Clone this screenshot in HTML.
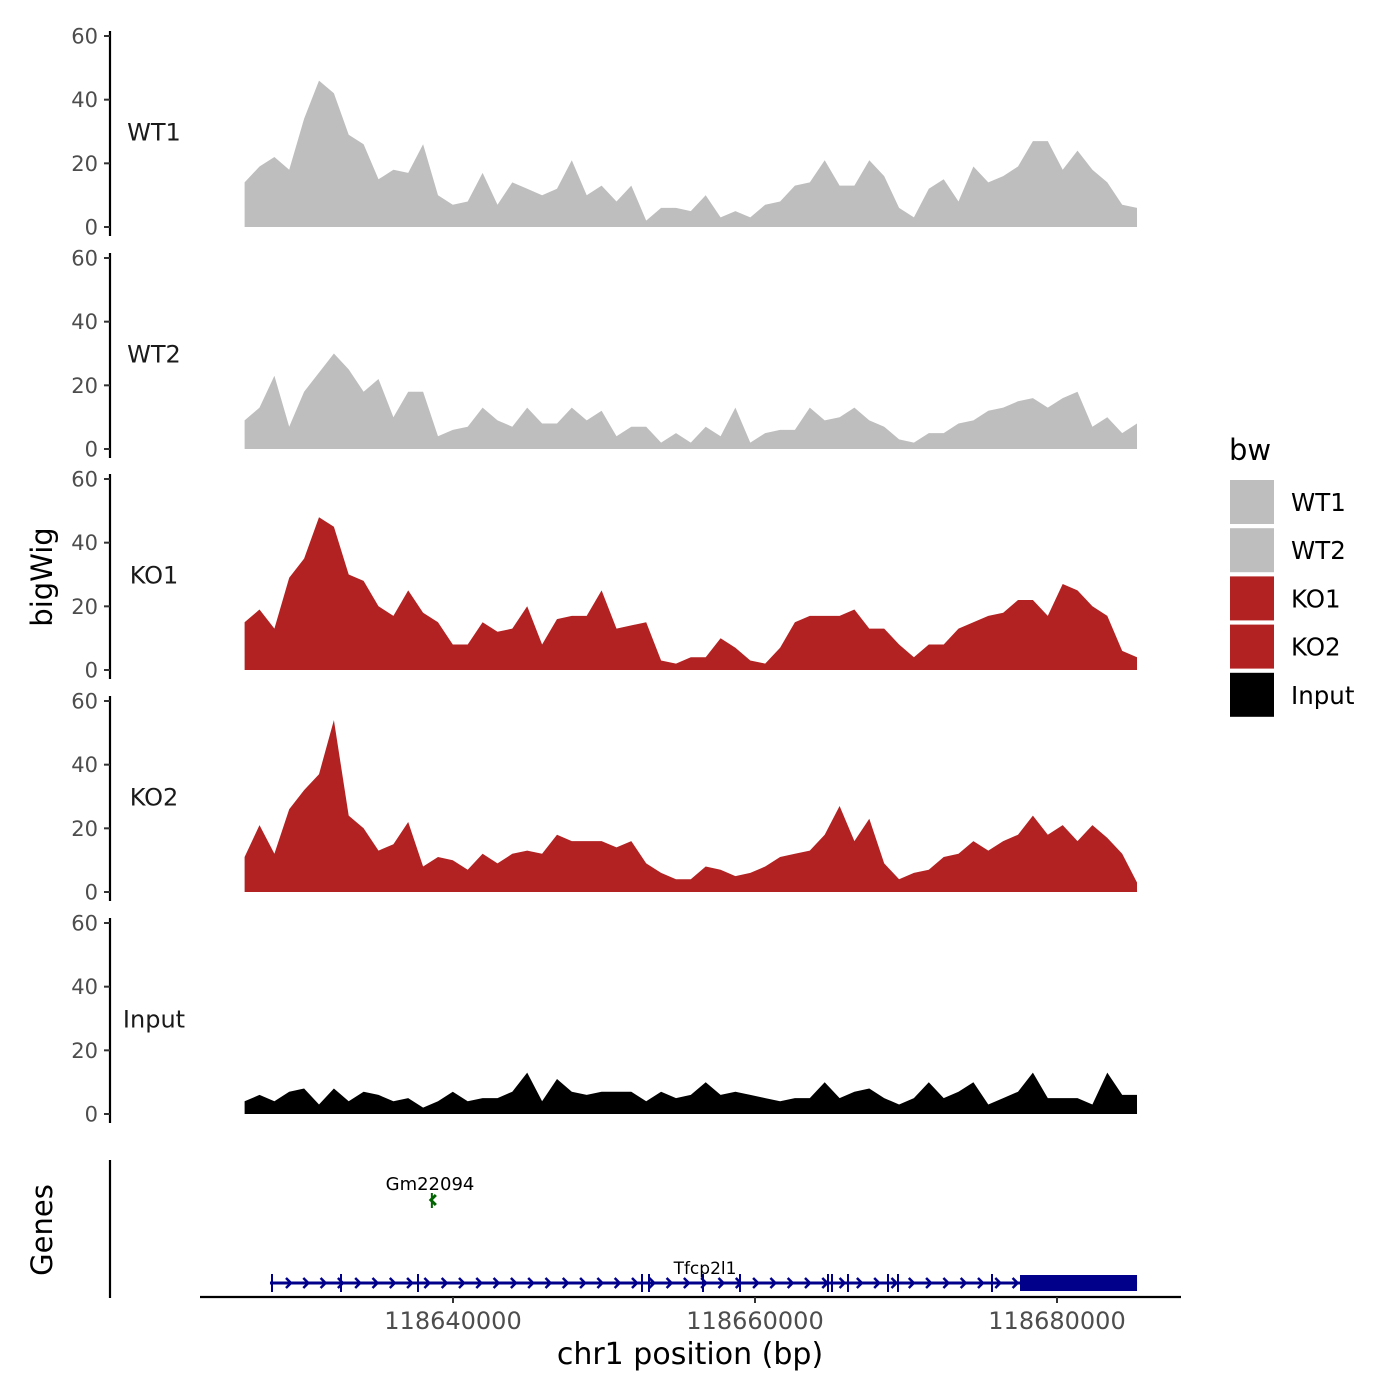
<!DOCTYPE html>
<html><head><meta charset="utf-8"><style>
body{margin:0;background:#fff}
svg{display:block;font-family:"DejaVu Sans","Liberation Sans",sans-serif}
</style></head><body>
<svg id="chart" width="1400" height="1400" viewBox="0 0 1400 1400"></svg>
<script>
const startBp = 118626200;
const stepBp = 985;
const trackNames = ["WT1","WT2","KO1","KO2","Input"];
const trackColors = ["#bebebe","#bebebe","#b22222","#b22222","#000000"];
const yTicks = [0,20,40,60];
const xTicks = [118640000,118660000,118680000];
const xTickLabels = ["118640000","118660000","118680000"];
const wt1 = [14,19,22,18,34,46,42,29,26,15,18,17,26,10,7,8,17,7,14,12,10,12,21,10,13,8,13,2,6,6,5,10,3,5,3,7,8,13,14,21,13,13,21,16,6,3,12,15,8,19,14,16,19,27,27,18,24,18,14,7,6];
const wt2 = [9,13,23,7,18,24,30,25,18,22,10,18,18,4,6,7,13,9,7,13,8,8,13,9,12,4,7,7,2,5,2,7,4,13,2,5,6,6,13,9,10,13,9,7,3,2,5,5,8,9,12,13,15,16,13,16,18,7,10,5,8];
const ko1 = [15,19,13,29,35,48,45,30,28,20,17,25,18,15,8,8,15,12,13,20,8,16,17,17,25,13,14,15,3,2,4,4,10,7,3,2,7,15,17,17,17,19,13,13,8,4,8,8,13,15,17,18,22,22,17,27,25,20,17,6,4];
const ko2 = [11,21,12,26,32,37,54,24,20,13,15,22,8,11,10,7,12,9,12,13,12,18,16,16,16,14,16,9,6,4,4,8,7,5,6,8,11,12,13,18,27,16,23,9,4,6,7,11,12,16,13,16,18,24,18,21,16,21,17,12,3];
const inputVals = [4,6,4,7,8,3,8,4,7,6,4,5,2,4,7,4,5,5,7,13,4,11,7,6,7,7,7,4,7,5,6,10,6,7,6,5,4,5,5,10,5,7,8,5,3,5,10,5,7,10,3,5,7,13,5,5,5,3,13,6,6];
const trackData = [wt1,wt2,ko1,ko2,inputVals];
const geneStartBp = 118627880;
const geneEndBp = 118685300;
const utrStartBp = 118677550;
const exonBp = [118628013,118632583,118637682,118652517,118652980,118656556,118659007,118664834,118665099,118666159,118668808,118669470,118675695];
const NS="http://www.w3.org/2000/svg";
const svg=document.getElementById('chart');
function el(tag,attrs,parent){const e=document.createElementNS(NS,tag);for(const k in attrs)e.setAttribute(k,attrs[k]);(parent||svg).appendChild(e);return e;}
function xScale(bp){return 453+(bp-118640000)/1000*15.1;}
const panelZero=[227,449,670,892,1114];
function yScale(v,p){return panelZero[p]-v*191/60;}

trackData.forEach((vals,p)=>{
  const g=el('g',{});
  
  
  let d='M'+xScale(startBp)+','+yScale(0,p);
  vals.forEach((v,i)=>{d+=' L'+xScale(startBp+i*stepBp).toFixed(1)+','+yScale(v,p).toFixed(1);});
  d+=' L'+xScale(startBp+(vals.length-1)*stepBp)+','+yScale(0,p)+' Z';
  const a=el('path',{d:d,fill:trackColors[p]},g);
  
  
  const ax=el('line',{x1:110,x2:110,y1:yScale(60,p)-5,y2:yScale(0,p)+9,stroke:'#000','stroke-width':2.2},g);
  
  
  yTicks.forEach(t=>{
    el('line',{x1:104,x2:110,y1:yScale(t,p),y2:yScale(t,p),stroke:'#333','stroke-width':2},g);
    const tx=el('text',{x:98,y:yScale(t,p)+7.5,'text-anchor':'end','font-size':21,fill:'#4d4d4d'},g);
    tx.textContent=t;
    
    
  });
  const lb=el('text',{x:154,y:yScale(30,p)+9,'text-anchor':'middle','font-size':24,fill:'#1a1a1a'},g);
  lb.textContent=trackNames[p];
  
  
});

const yt=el('text',{x:0,y:0,transform:'translate(52,577) rotate(-90)','text-anchor':'middle','font-size':29,fill:'#000'});
yt.textContent='bigWig';


const gt=el('text',{x:0,y:0,transform:'translate(52,1230) rotate(-90)','text-anchor':'middle','font-size':29,fill:'#000'});
gt.textContent='Genes';


const gax=el('line',{x1:110,x2:110,y1:1160,y2:1298,stroke:'#000','stroke-width':2.2});



const gene=el('g',{});


const gs=xScale(geneStartBp), ge=xScale(geneEndBp), us=xScale(utrStartBp);
el('line',{x1:gs,x2:ge,y1:1283,y2:1283,stroke:'#00008b','stroke-width':3},gene);
for(let x=gs+19;x<us-4;x+=17.3){
  el('path',{d:`M${x-3},${1278} L${x+2},${1283} L${x-3},${1288}`,fill:'none',stroke:'#00008b','stroke-width':2.5},gene);
}
exonBp.forEach(b=>{const x=xScale(b);el('line',{x1:x,x2:x,y1:1274,y2:1292,stroke:'#00008b','stroke-width':2},gene);});
el('rect',{x:us,y:1275,width:ge-us,height:16,fill:'#00008b'},gene);
const gl=el('text',{x:705,y:1274,'text-anchor':'middle','font-size':17,fill:'#000'});
gl.textContent='Tfcp2l1';


const gm=el('g',{});


const gx=xScale(118638600);
el('line',{x1:gx,x2:gx,y1:1193,y2:1208,stroke:'#006400','stroke-width':2},gm);
el('path',{d:`M${gx+4},1195 L${gx-1},1200 L${gx+4},1205`,fill:'none',stroke:'#006400','stroke-width':3},gm);
const gml=el('text',{x:430,y:1190,'text-anchor':'middle','font-size':18,fill:'#000'});
gml.textContent='Gm22094';



const xa=el('line',{x1:200,x2:1181,y1:1297,y2:1297,stroke:'#000','stroke-width':2.2});


xTicks.forEach((t,i)=>{
  const x=xScale(t);
  el('line',{x1:x,x2:x,y1:1297,y2:1303,stroke:'#333','stroke-width':2});
  const tl=el('text',{x:x,y:1329,'text-anchor':'middle','font-size':24,fill:'#4d4d4d'});
  tl.textContent=xTickLabels[i];
  
  
});
const xt=el('text',{x:690,y:1364,'text-anchor':'middle','font-size':30,fill:'#000'});
xt.textContent='chr1 position (bp)';



const lg=el('g',{});


const lt=el('text',{x:1229,y:460,'font-size':29,fill:'#000'},lg);
lt.textContent='bw';


trackNames.forEach((n,i)=>{
  const y=480+i*48.2;
  const k=el('rect',{x:1230,y:y,width:44,height:44,fill:trackColors[i]},lg);
  
  
  const t=el('text',{x:1291,y:y+31,'font-size':24.5,fill:'#000'},lg);
  t.textContent=n;
  
  
});
</script>
</body></html>
